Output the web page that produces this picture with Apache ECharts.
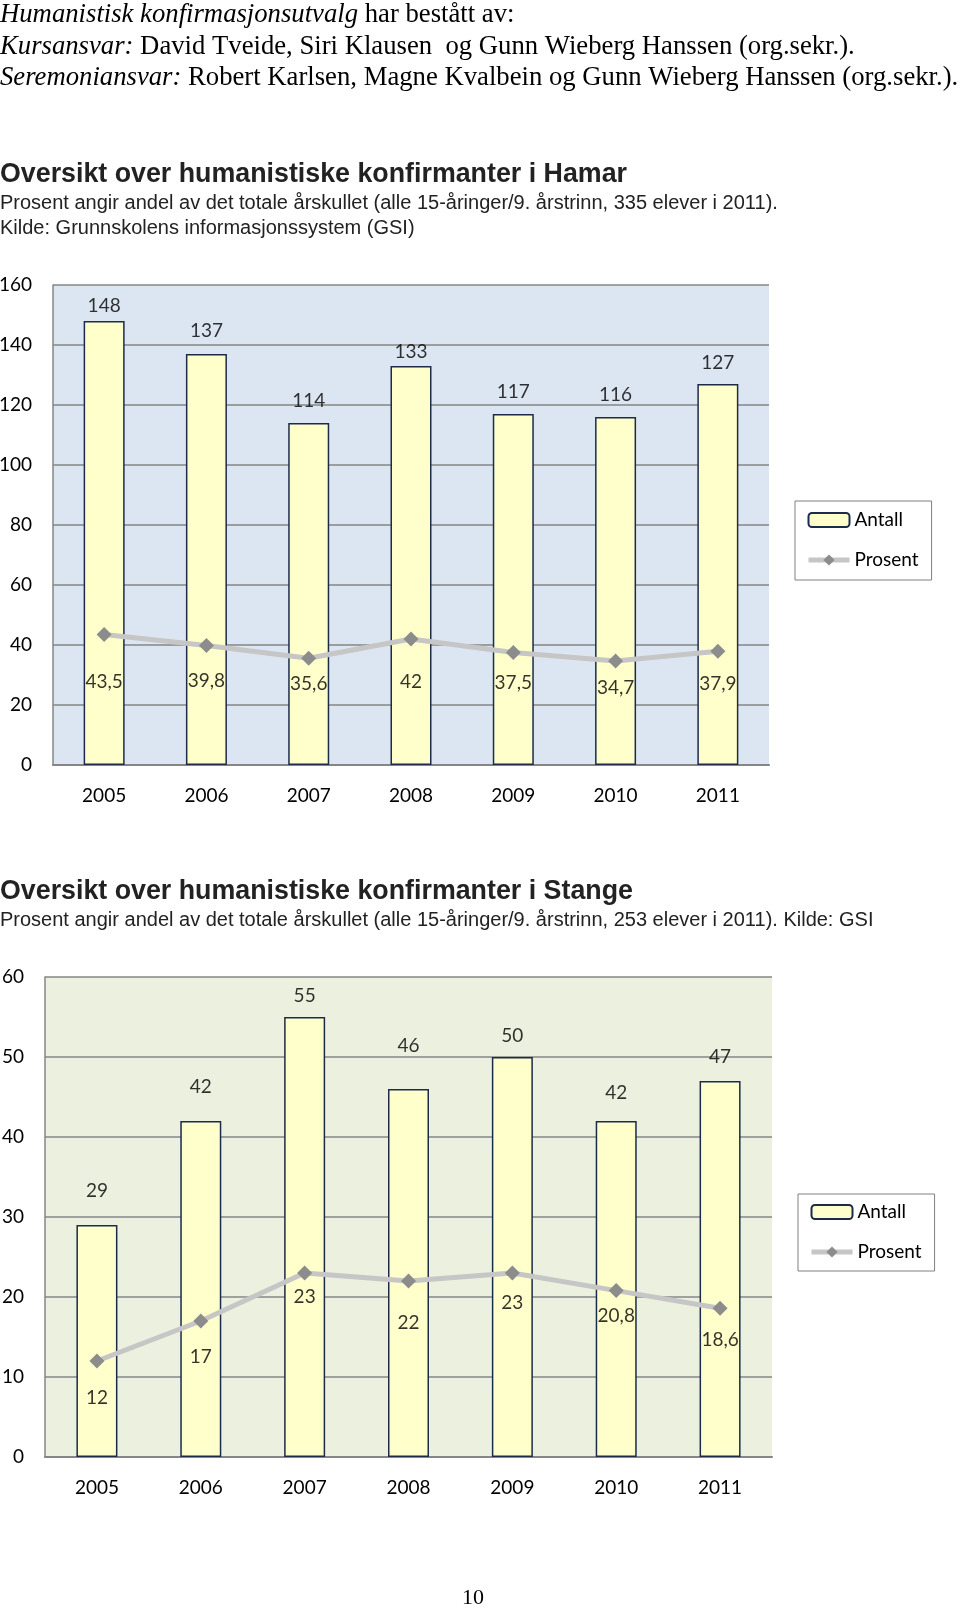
<!DOCTYPE html>
<html>
<head>
<meta charset="utf-8">
<script src="https://cdn.jsdelivr.net/npm/echarts@6/dist/echarts.min.js"></script>
<style>
  html, body { margin: 0; padding: 0; background: #fff; }
  #page { width: 960px; height: 1609px; }
</style>
</head>
<body>
<div id="page"></div>
<script>
// data
const years = ["2005", "2006", "2007", "2008", "2009", "2010", "2011"];

const hamarTicks = [0, 20, 40, 60, 80, 100, 120, 140, 160];
const hamarAntall = [148, 137, 114, 133, 117, 116, 127];
const hamarProsent = [43.5, 39.8, 35.6, 42, 37.5, 34.7, 37.9];
// where the value labels sit, in axis units
const hamarAntallLabelAt = [153, 144.7, 121.5, 137.7, 124.3, 123.3, 134];
const hamarProsentLabelAt = [27.7, 28, 27, 27.7, 27.3, 25.7, 27];

const stangeTicks = [0, 10, 20, 30, 40, 50, 60];
const stangeAntall = [29, 42, 55, 46, 50, 42, 47];
const stangeProsent = [12, 17, 23, 22, 23, 20.8, 18.6];
const stangeAntallLabelAt = [33.3, 46.25, 57.7, 51.4, 52.6, 45.5, 50];
const stangeProsentLabelAt = [7.4, 12.55, 20, 16.8, 19.3, 17.6, 14.6];

const chartFont = "Lato";
const gridGray = "#868686";
const fmt = (v) => String(v).replace(".", ",");

const chart = echarts.init(document.getElementById("page"));

function axesFor(i, ticks, yMargin) {
  const xAxis = {
    type: "category",
    gridIndex: i,
    data: years,
    axisTick: { show: false },
    axisLine: { lineStyle: { color: gridGray, width: 2 } },
    axisLabel: { color: "#000", fontFamily: chartFont, fontSize: 19, margin: 21 },
  };
  const yAxis = {
    type: "value",
    gridIndex: i,
    min: ticks[0],
    max: ticks[ticks.length - 1],
    interval: ticks[1] - ticks[0],
    axisTick: { show: false },
    axisLine: { show: true, lineStyle: { color: gridGray, width: 1.5 } },
    axisLabel: { color: "#000", fontFamily: chartFont, fontSize: 19, margin: yMargin },
    splitLine: { lineStyle: { color: gridGray, width: 1.5 } },
  };
  return { xAxis, yAxis };
}

function seriesFor(i, antall, prosent, antallAt, prosentAt) {
  const labelText = { color: "#000", fontFamily: chartFont, fontSize: 19 };
  return [
    {
      name: "Antall",
      type: "bar",
      xAxisIndex: i,
      yAxisIndex: i,
      data: antall,
      barWidth: 41,
      itemStyle: { color: "#ffffcc", borderColor: "#1c2b4a", borderWidth: 1.5 },
      z: 2,
    },
    {
      name: "Prosent",
      type: "line",
      xAxisIndex: i,
      yAxisIndex: i,
      data: prosent,
      symbol: "diamond",
      symbolSize: 15,
      lineStyle: { color: "#c6c6c6", width: 5 },
      itemStyle: { color: "#8c8c8c" },
      z: 3,
    },
    {
      name: "antallLabels",
      type: "scatter",
      xAxisIndex: i,
      yAxisIndex: i,
      data: antallAt,
      symbolSize: 1,
      itemStyle: { color: "rgba(0,0,0,0)" },
      silent: true,
      z: 4,
      label: {
        show: true,
        position: "inside",
        formatter: (p) => fmt(antall[p.dataIndex]),
        ...labelText,
      },
    },
    {
      name: "prosentLabels",
      type: "scatter",
      xAxisIndex: i,
      yAxisIndex: i,
      data: prosentAt,
      symbolSize: 1,
      itemStyle: { color: "rgba(0,0,0,0)" },
      silent: true,
      z: 4,
      label: {
        show: true,
        position: "inside",
        formatter: (p) => fmt(prosent[p.dataIndex]),
        ...labelText,
      },
    },
  ];
}

const a0 = axesFor(0, hamarTicks, 21);
const a1 = axesFor(1, stangeTicks, 21);

const legendBase = {
  orient: "vertical",
  data: ["Antall", "Prosent"],
  itemWidth: 41,
  itemHeight: 14,
  itemGap: 20,
  backgroundColor: "#fff",
  borderColor: "#808080",
  borderWidth: 1,
  borderRadius: 0,
  selectedMode: false,
  lineStyle: { width: 5, color: "#c6c6c6" },
  textStyle: { color: "#000", fontFamily: chartFont, fontSize: 19, lineHeight: 20 },
};

const serif = "'Liberation Serif', 'Times New Roman', serif";
const sans = "'Liberation Sans', Arial, sans-serif";

function textLine(x, y, text, family, size, extra) {
  return {
    type: "text",
    x: x,
    y: y,
    style: Object.assign(
      { text, fill: "#000", fontFamily: family, fontSize: size, verticalAlign: "middle" },
      extra || {}
    ),
  };
}

const italic = { i: { fontStyle: "italic", fontFamily: serif, fontSize: 26.7 } };

const option = {
  animation: false,
  grid: [
    { left: 53, top: 285, width: 716, height: 480, show: true, backgroundColor: "#dce6f2", borderWidth: 0, outerBoundsMode: "none" },
    { left: 45, top: 977, width: 727, height: 480, show: true, backgroundColor: "#ebf1de", borderWidth: 0, outerBoundsMode: "none" },
  ],
  xAxis: [a0.xAxis, a1.xAxis],
  yAxis: [a0.yAxis, a1.yAxis],
  legend: [
    Object.assign({ left: 795, top: 501, padding: [9, 13, 10, 11] }, legendBase),
    Object.assign({ left: 798, top: 1194, padding: [8, 13, 9, 11] }, legendBase),
  ],
  graphic: [
    textLine(0, 15, "{i|Humanistisk konfirmasjonsutvalg} har bestått av:", serif, 26.7, { rich: italic }),
    textLine(0, 46.5, "{i|Kursansvar:} David Tveide, Siri Klausen  og Gunn Wieberg Hanssen (org.sekr.).", serif, 26.7, { rich: italic }),
    textLine(0, 78, "{i|Seremoniansvar:} Robert Karlsen, Magne Kvalbein og Gunn Wieberg Hanssen (org.sekr.).", serif, 26.7, { rich: italic }),
    textLine(0, 175, "Oversikt over humanistiske konfirmanter i Hamar", sans, 26.8, { fontWeight: "bold", fill: "#222" }),
    textLine(0, 203.5, "Prosent angir andel av det totale årskullet (alle 15-åringer/9. årstrinn, 335 elever i 2011).", sans, 20, { fill: "#222" }),
    textLine(0, 228, "Kilde: Grunnskolens informasjonssystem (GSI)", sans, 20, { fill: "#222" }),
    textLine(0, 891.5, "Oversikt over humanistiske konfirmanter i Stange", sans, 26.8, { fontWeight: "bold", fill: "#222" }),
    textLine(0, 920, "Prosent angir andel av det totale årskullet (alle 15-åringer/9. årstrinn, 253 elever i 2011). Kilde: GSI", sans, 20, { fill: "#222" }),
    textLine(462, 1598, "10", serif, 22),
  ],
  series: [
    ...seriesFor(0, hamarAntall, hamarProsent, hamarAntallLabelAt, hamarProsentLabelAt),
    ...seriesFor(1, stangeAntall, stangeProsent, stangeAntallLabelAt, stangeProsentLabelAt),
  ],
};

chart.setOption(option);
window.addEventListener("resize", () => chart.resize());
</script>
</body>
</html>
